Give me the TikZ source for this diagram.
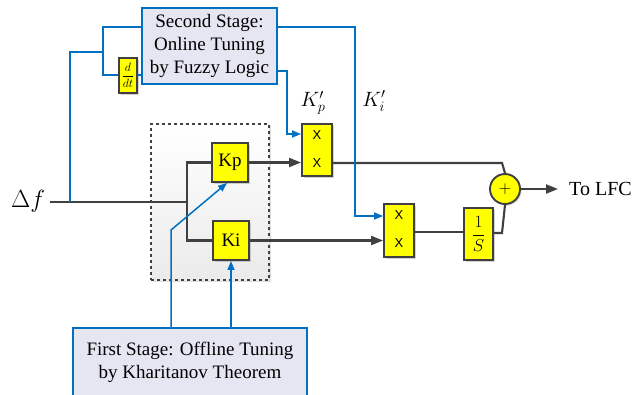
\documentclass[tikz,border=0pt]{standalone}
\usepackage{fontspec}
\setmainfont{Liberation Serif}
\newfontfamily\arialf{Liberation Sans}
\usetikzlibrary{arrows.meta,shadows}
\definecolor{bl}{RGB}{0,112,192}
\definecolor{dk}{RGB}{64,64,64}
\definecolor{lav}{RGB}{230,230,242}
\definecolor{yl}{RGB}{255,255,0}
\tikzset{
  bluebox/.style={draw=bl, line width=1.5pt, fill=lav, inner sep=0pt, align=center, font=\fontsize{19}{23}\selectfont},
  ybox/.style={draw=dk, line width=1.9pt, fill=yl, inner sep=0pt, drop shadow={shadow xshift=1.5pt, shadow yshift=-1.5pt, opacity=0.35}},
  dline/.style={draw=dk, line width=2.1pt},
  bline/.style={draw=bl, line width=1.5pt},
  darr/.style={dline, -{Triangle[length=12pt,width=9pt]}},
  barr/.style={bline, -{Triangle[length=9pt,width=7pt]}},
  xlab/.style={font=\arialf\fontsize{13}{13}\selectfont, inner sep=0pt},
}
\begin{document}
\begin{tikzpicture}[x=1pt,y=-1pt]
\useasboundingbox (0,0) rectangle (644,394);
\clip (0,0) rectangle (644,394);
\fill[white] (0,0) rectangle (644,394);

% dashed box
\node[draw=dk, dashed, line width=1.6pt, top color=white, bottom color=black!8, minimum width=118pt, minimum height=156pt, drop shadow={shadow xshift=1.5pt, shadow yshift=-1.5pt, opacity=0.25}] (pi) at (210,202) {};

% stage boxes
\node[bluebox, minimum width=135pt, minimum height=76pt] (second) at (209.5,46) {Second Stage:\\Online Tuning\\by Fuzzy Logic};
\node[bluebox, minimum width=234pt, minimum height=68pt] (first) at (190,362) {First Stage: Offline Tuning\\by Kharitanov Theorem};

% yellow blocks
\node[ybox, minimum width=18pt, minimum height=35pt, font=\fontsize{12}{12}\selectfont] (ddt) at (128,75.5) {$\displaystyle\frac{d}{dt}$};
\node[ybox, minimum width=36pt, minimum height=39pt, font=\fontsize{19}{19}\selectfont] (kp) at (230,162.5) {Kp};
\node[ybox, minimum width=36pt, minimum height=39pt, font=\fontsize{19}{19}\selectfont] (ki) at (231,240.5) {Ki};
\node[ybox, minimum width=30pt, minimum height=52pt] (x1) at (317,150) {};
\node[xlab] (x1a) at (317,135) {X};
\node[xlab] (x1b) at (317,163) {X};
\node[ybox, minimum width=30pt, minimum height=53pt] (x2) at (399,230.5) {};
\node[xlab] (x2a) at (399,215) {X};
\node[xlab] (x2b) at (399,243) {X};
\node[ybox, minimum width=29pt, minimum height=52pt, font=\fontsize{17}{17}\selectfont] (invs) at (478.5,234) {$\displaystyle\frac{1}{S}$};
\node[ybox, circle, minimum size=30pt, font=\fontsize{16}{16}\selectfont] (sum) at (505,189) {$+$};

% labels
\node[font=\fontsize{24}{24}\selectfont, inner sep=0pt] (df) at (28,201) {$\Delta f$};
\node[font=\fontsize{21}{21}\selectfont, inner sep=0pt] (kpl) at (313,103) {$K_p'$};
\node[font=\fontsize{21}{21}\selectfont, inner sep=0pt] (kil) at (374,101) {$K_i'$};
\node[font=\fontsize{20}{20}\selectfont, inner sep=0pt, anchor=west] (lfc) at (569,189) {To LFC};

% coordinates
\coordinate (dfs) at (50,202);
\coordinate (j1) at (187,202);
\coordinate (j2) at (70,202);

% dark signal lines
\draw[dline] (dfs) -- (j1);
\draw[dline] (kp.west) -| (j1) |- (ki.west);
\draw[darr] (kp.east) -- (kp.east -| x1.west);
\draw[darr] (ki.east) -- (ki.east -| x2.west);
\draw[dline] (x1.east |- x1b) -- (502,163) -- (sum.north);
\draw[dline] (x2.east |- 0,232) -- (invs.west |- 0,232);
\draw[dline] (invs.east |- 0,233) -- (502,233) -- (sum.south);
\draw[darr] (sum.east) -- (558,189);

% blue lines
\draw[bline] (j2) -- (70,52) -- (103,52);
\draw[bline] (second.west |- 0,27) -- (103,27) -- (103,75) -- (ddt.west |- 0,75);
\draw[bline] (ddt.east |- 0,75) -- (second.west |- 0,75);
\draw[barr] (second.east |- 0,27) -- (355,27) -- (355,216) -- (x2.west |- 0,216);
\draw[barr] (second.east |- 0,71) -- (287,71) -- (287,134) -- (x1.west |- 0,134);
\draw[barr] (first.north -| 171,0) -- (171,230) -- ([xshift=-3pt]kp.south);
\draw[barr] (first.north -| ki.south) -- (ki.south);
\end{tikzpicture}
\end{document}
